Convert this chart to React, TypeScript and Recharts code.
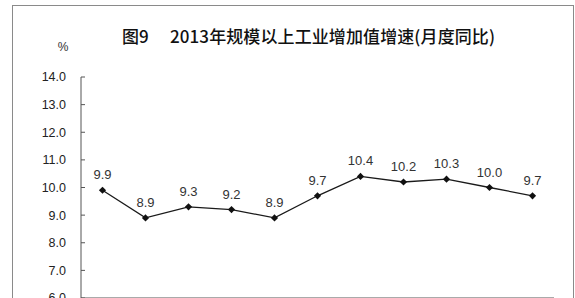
import React from 'react';
import { LineChart, Line, XAxis, YAxis, LabelList } from 'recharts';

// 2013 monthly industrial value-added growth (y/y, %)
const months = ['2月', '3月', '4月', '5月', '6月', '7月', '8月', '9月', '10月', '11月', '12月'];
const growth = [9.9, 8.9, 9.3, 9.2, 8.9, 9.7, 10.4, 10.2, 10.3, 10.0, 9.7];
const yTicks = [6, 7, 8, 9, 10, 11, 12, 13, 14];
// tick marks sit between the months
const xBounds = [0.5, 1.5, 2.5, 3.5, 4.5, 5.5, 6.5, 7.5, 8.5, 9.5, 10.5, 11.5];

const title = '图9\u3000 2013年规模以上工业增加值增速(月度同比)';

const data = months.map((m, i) => ({ month: m, idx: i + 1, value: growth[i] }));

const Diamond = (props: any) => {
    const { cx, cy } = props;
    if (cx == null || cy == null) return null;
    const r = 3.6;
    return (
        <polygon
            points={`${cx},${cy - r} ${cx + r},${cy} ${cx},${cy + r} ${cx - r},${cy}`}
            fill="#111"
        />
    );
};

const App = () => {
    return (
        <div style={{ position: 'absolute', left: 0, top: 0, width: 575, height: 298, overflow: 'hidden', background: '#fff' }}>
            {/* outer frame */}
            <div style={{
                position: 'absolute', left: 12, top: 5, width: 562, height: 400,
                border: '1.5px solid #8a8a8a', boxSizing: 'border-box'
            }} />

            <svg width={575} height={60} style={{ position: 'absolute', left: 0, top: 0 }}>
                <text x={122} y={43} fontSize={17} fontWeight={500} fontFamily="'Noto Sans CJK SC', sans-serif"
                    fill="#111" textLength={373} lengthAdjust="spacing">
                    {title}
                </text>
                <text x={63} y={51} fontSize={12} fontFamily="'Liberation Sans', Arial, sans-serif"
                    fill="#333" textAnchor="middle">%</text>
            </svg>

            <div style={{ position: 'absolute', left: 0, top: 0 }}>
                <LineChart width={575} height={360} data={data}
                    margin={{ top: 77, right: 21, bottom: 32, left: 0 }}>
                    <XAxis type="number" dataKey="idx" domain={[0.5, 11.5]} ticks={xBounds}
                        tick={false} tickSize={-6} height={30}
                        axisLine={{ stroke: '#555' }} tickLine={{ stroke: '#555' }} />
                    <YAxis domain={[6, 14]} ticks={yTicks} width={81} tickSize={-4} tickMargin={19}
                        tickFormatter={(v: number) => v.toFixed(1)}
                        tick={{ fill: '#222', fontSize: 12.5, fontFamily: "'Liberation Sans', Arial, sans-serif" }}
                        axisLine={{ stroke: '#555' }} tickLine={{ stroke: '#555' }} />
                    <Line type="linear" dataKey="value" stroke="#1a1a1a" strokeWidth={1.3}
                        dot={<Diamond />} activeDot={false} isAnimationActive={false}>
                        <LabelList dataKey="value" position="top" offset={11}
                            formatter={(v: any) => Number(v).toFixed(1)}
                            style={{ fill: '#333', fontSize: 13, fontFamily: "'Liberation Sans', Arial, sans-serif" }} />
                    </Line>
                </LineChart>
            </div>
        </div>
    );
};

export default App;
